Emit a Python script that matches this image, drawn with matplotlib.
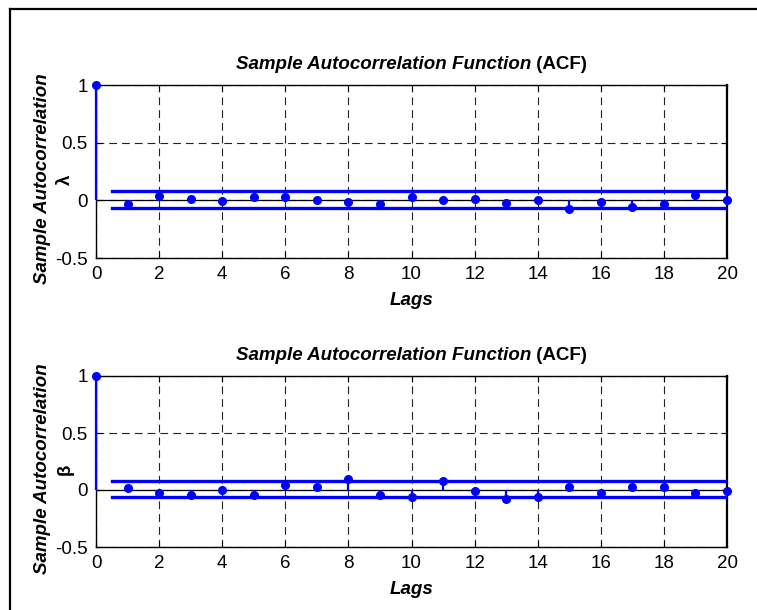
import numpy as np
import matplotlib
matplotlib.use("Agg")
import matplotlib.pyplot as plt
from matplotlib.lines import Line2D

plt.rcParams['font.family'] = ['Liberation Sans', 'DejaVu Sans']

lags = list(range(21))
acf_lambda = [1.0, -0.029, 0.040, 0.014, -0.003, 0.029, 0.032, 0.000, -0.012, -0.035, 0.029,
              0.000, 0.014, -0.023, 0.000, -0.072, -0.014, -0.061, -0.035, 0.049, 0.000]
acf_beta = [1.0, 0.018, -0.026, -0.047, 0.000, -0.047, 0.041, 0.029, 0.096, -0.047, -0.058,
            0.082, -0.012, -0.076, -0.058, 0.029, -0.023, 0.029, 0.029, -0.023, -0.012]
bounds_lambda = [0.078, -0.063]
bounds_beta = [0.079, -0.061]
symbols = ['λ', 'β']
xticks = list(range(0, 21, 2))
yticks = [-0.5, 0, 0.5, 1]
yticklabels = ['-0.5', '0', '0.5', '1']

W, H = 757, 610
fig = plt.figure(figsize=(W / 100, H / 100), dpi=100)

def px(x, y):
    return x / W, 1 - y / H

blue = (0, 0, 1)
# axes boxes in pixels: left, top, right, bottom
boxes = [(96, 85, 727, 258), (96, 376, 727, 547)]
series = [acf_lambda, acf_beta]
bounds = [bounds_lambda, bounds_beta]

renderer = fig.canvas.get_renderer()

for k in range(2):
    l, t, r, b = boxes[k]
    ax = fig.add_axes([l / W, 1 - b / H, (r - l) / W, (b - t) / H])
    ax.set_xlim(0, 20)
    ax.set_ylim(-0.5, 1)
    ax.set_xticks(xticks)
    ax.set_yticks(yticks)
    ax.set_yticklabels(yticklabels)
    ax.tick_params(direction='in', length=4, width=0.8, labelsize=13.5, pad=6,
                   top=True, right=True)
    for sp in ax.spines.values():
        sp.set_linewidth(1.0)
    ax.spines['right'].set_linewidth(1.6)
    ax.grid(True, color='#222222', linestyle=(0, (7, 4.5)), linewidth=0.8)
    ax.axhline(0, color='k', linewidth=0.9, zorder=2)

    vals = series[k]
    ax.vlines(lags, 0, vals, color=blue, linewidth=1.6, zorder=3, clip_on=False)
    ax.plot(lags, vals, 'o', color=blue, markersize=5.5, zorder=4, clip_on=False)
    up, lo = bounds[k]
    ax.plot([0.5, 20], [up, up], color=blue, linewidth=2.4, zorder=3)
    ax.plot([0.5, 20], [lo, lo], color=blue, linewidth=2.4, zorder=3)

    # title: bold italic part + bold upright part
    cx = (l + r) / 2
    ty = t - 16
    t1 = fig.text(0, 0, 'Sample Autocorrelation Function', fontsize=13.5,
                  fontweight='bold', fontstyle='italic', va='baseline')
    t2 = fig.text(0, 0, ' (ACF)', fontsize=13.5, fontweight='bold', va='baseline')
    w1 = t1.get_window_extent(renderer).width
    w2 = t2.get_window_extent(renderer).width
    x0 = cx - (w1 + w2) / 2
    t1.set_position(px(x0, ty))
    t2.set_position(px(x0 + w1, ty))

    fig.text(*px(cx, b + 47), 'Lags', fontsize=13.5, fontweight='bold',
             fontstyle='italic', ha='center', va='baseline')
    fig.text(*px(43, (t + b) / 2 + 7), 'Sample Autocorrelation', fontsize=13.5,
             fontweight='bold', fontstyle='italic', rotation=90,
             ha='center', va='center')
    fig.text(*px(65, (t + b) / 2 + 8), symbols[k], fontsize=13.5, fontweight='bold',
             rotation=90, ha='center', va='center')

# outer frame
fig.add_artist(Line2D([10 / W, 10 / W], [0, 1 - 9 / H], color='k', linewidth=1.6,
                      transform=fig.transFigure))
fig.add_artist(Line2D([10 / W, 1], [1 - 9 / H, 1 - 9 / H], color='k', linewidth=1.6,
                      transform=fig.transFigure))

fig.savefig('out.png', dpi=100)
